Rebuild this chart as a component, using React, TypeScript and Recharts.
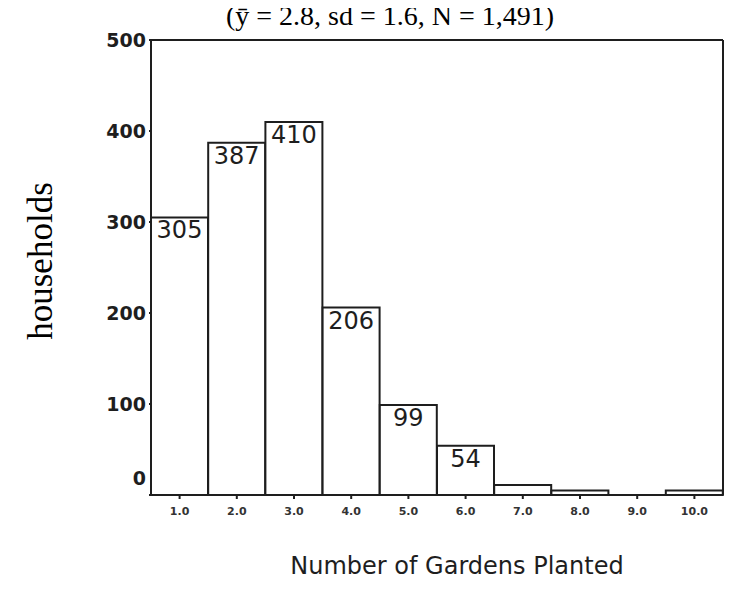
import { BarChart, Bar, XAxis, YAxis, LabelList } from "recharts";

const gardenBins = ["1.0", "2.0", "3.0", "4.0", "5.0", "6.0", "7.0", "8.0", "9.0", "10.0"];
const householdCounts = [305, 387, 410, 206, 99, 54, 11, 5, 0, 5];
const yTicks = [0, 100, 200, 300, 400, 500];

const data = gardenBins.map((bin, i) => ({ bin, count: householdCounts[i] }));

const INK = "#1e1e1e";
const SANS = "'DejaVu Sans', sans-serif";
const SERIF = "'Liberation Serif', 'Times New Roman', serif";

const YTick = (props: any) => {
  const { x, y, payload } = props;
  // the 0 label sits above the baseline in the original
  const shift = payload.value === 0 ? -17 : 0;
  return (
    <text
      x={x}
      y={y + shift}
      dy="0.36em"
      textAnchor="end"
      fontFamily={SANS}
      fontWeight="bold"
      fontSize={19}
      fill={INK}
    >
      {payload.value}
    </text>
  );
};

const XTick = (props: any) => {
  const { x, y, payload } = props;
  return (
    <text
      x={x}
      y={y}
      dy="0.71em"
      textAnchor="middle"
      fontFamily={SANS}
      fontWeight="bold"
      fontSize={11}
      fill="#333"
    >
      {payload.value}
    </text>
  );
};

const BarValue = (props: any) => {
  const { x, y, width, value } = props;
  if (value < 20) return null;
  return (
    <text
      x={x + width / 2}
      y={y + 21}
      textAnchor="middle"
      fontFamily={SANS}
      fontSize={24}
      fill={INK}
    >
      {value}
    </text>
  );
};

export default function App() {
  return (
    <div style={{ margin: "-8px 0 0 -8px", width: 743, height: 593, background: "#fff" }}>
      <BarChart
        width={743}
        height={593}
        data={data}
        margin={{ top: 39, right: 19, bottom: 0, left: 0 }}
        barCategoryGap={0}
      >
        <XAxis
          dataKey="bin"
          height={98}
          interval={0}
          tick={<XTick />}
          tickSize={4}
          tickMargin={8}
          tickLine={{ stroke: INK, strokeWidth: 2 }}
          axisLine={{ stroke: INK, strokeWidth: 2 }}
        />
        <XAxis
          xAxisId="top"
          dataKey="bin"
          orientation="top"
          height={1}
          tick={false}
          tickLine={false}
          axisLine={{ stroke: INK, strokeWidth: 2 }}
        />
        <YAxis
          width={151}
          domain={[0, 500]}
          ticks={yTicks}
          interval={0}
          tick={<YTick />}
          tickSize={2}
          tickMargin={3}
          tickLine={{ stroke: INK, strokeWidth: 2 }}
          axisLine={{ stroke: INK, strokeWidth: 2 }}
        />
        <YAxis
          yAxisId="right"
          orientation="right"
          width={1}
          domain={[0, 500]}
          tick={false}
          tickLine={false}
          axisLine={{ stroke: INK, strokeWidth: 2 }}
        />
        <Bar
          dataKey="count"
          fill="#fff"
          stroke={INK}
          strokeWidth={2}
          isAnimationActive={false}
        >
          <LabelList dataKey="count" content={<BarValue />} />
        </Bar>
        <text
          x={390}
          y={25}
          textAnchor="middle"
          fontFamily={SERIF}
          fontSize={28}
          fill="#000"
        >
          (ȳ = 2.8, sd = 1.6, N = 1,491)
        </text>
        <text
          x={52}
          y={261}
          transform="rotate(-90, 52, 261)"
          textAnchor="middle"
          fontFamily={SERIF}
          fontSize={35}
          fill="#000"
        >
          households
        </text>
        <text
          x={457}
          y={574}
          textAnchor="middle"
          fontFamily={SANS}
          fontSize={24}
          fill={INK}
        >
          Number of Gardens Planted
        </text>
      </BarChart>
    </div>
  );
}
